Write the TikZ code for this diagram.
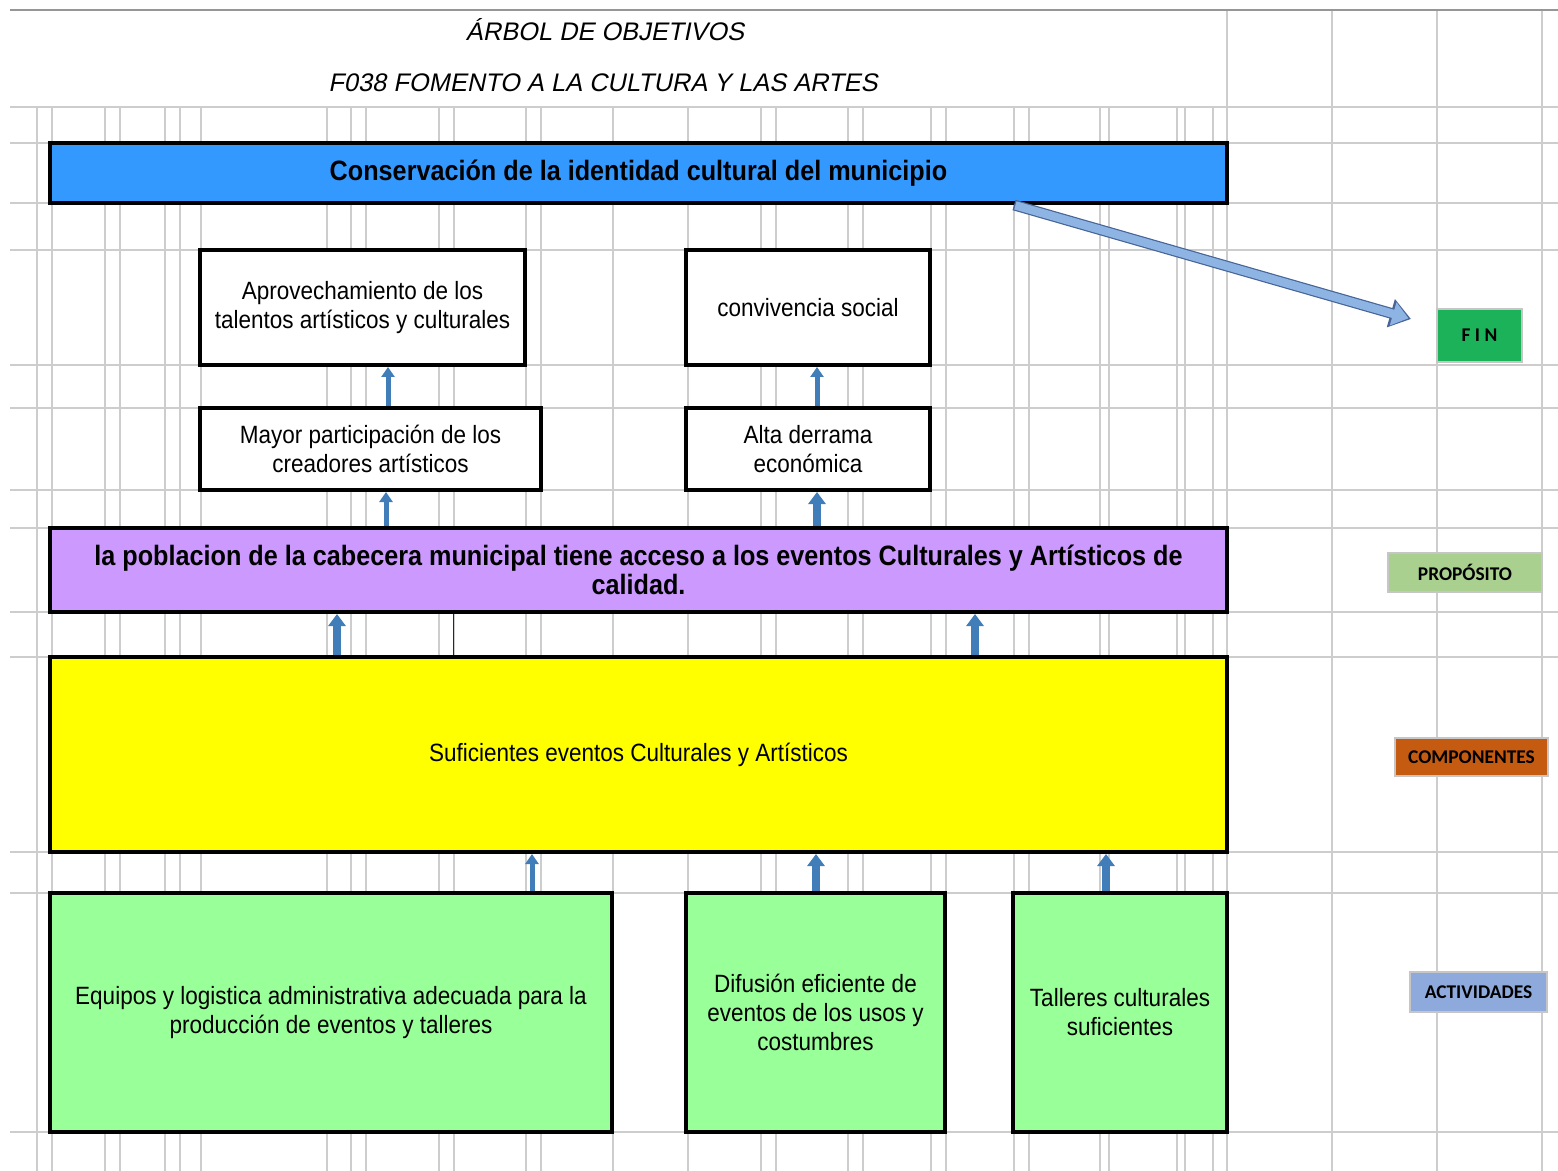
\documentclass[tikz,border=0pt]{standalone}
\usepackage{fontspec}
\setmainfont{Liberation Sans}
\newfontfamily\agency[FakeStretch=0.9]{Liberation Sans}
\newfontfamily\agencytit[FakeSlant=0.2]{Liberation Sans}
\newfontfamily\calib{Carlito}
\usetikzlibrary{arrows.meta}
\definecolor{atGrid}{RGB}{205,205,205}
\definecolor{atTop}{RGB}{150,150,150}
\definecolor{atBlue}{RGB}{51,153,255}
\definecolor{atLila}{RGB}{204,153,255}
\definecolor{atYellow}{RGB}{255,255,0}
\definecolor{atGreen}{RGB}{153,255,153}
\definecolor{atArrow}{RGB}{65,125,185}
\definecolor{atDiag}{RGB}{142,180,227}
\definecolor{atDiagEdge}{RGB}{70,100,150}
\definecolor{atNavy}{RGB}{20,40,90}
\definecolor{atFin}{RGB}{28,178,90}
\definecolor{atProp}{RGB}{169,208,142}
\definecolor{atComp}{RGB}{197,90,17}
\definecolor{atAct}{RGB}{142,169,219}

\begin{document}
\begin{tikzpicture}[x=0.5pt, y=-0.5pt,
  gridline/.style={atGrid, line width=0.8pt},
  objbox/.style={draw=black, line width=2pt, align=center, inner sep=2pt,
    font=\agency\fontsize{12.5}{14.5}\selectfont},
  headbox/.style={objbox, font=\agency\bfseries\fontsize{14}{14.5}\selectfont},
  levelbox/.style={draw=gray!45, line width=0.7pt, inner sep=0pt,
    font=\calib\bfseries\fontsize{9.7}{11}\selectfont},
  uparr/.style={atArrow, line width=2.5pt, -{Triangle[width=6.5pt, length=5pt]}},
  uparrw/.style={atArrow, line width=4pt, -{Triangle[width=8.5pt, length=6pt]}}]
  \useasboundingbox (0,0) rectangle (1558,1171);
  \fill[white] (0,0) rectangle (1558,1171);

  % Sheet grid
  \foreach \gx in {37,52,105,120,165,180,201,327,351,366,439,454,526,541,613,688,761,776,848,863,931,946,1014,1029,1100,1109,1177,1185,1213}
    \draw[gridline] (\gx,107) -- (\gx,1171);
  \foreach \gx in {1227,1332,1437,1542}
    \draw[gridline] (\gx,10) -- (\gx,1171);
  \fill[white] (615,894) rectangle (686,1131);
  \fill[white] (948,894) rectangle (1012,1131);
  \foreach \gy in {107,143,203,250,365,408,490,528,612,657,852,893,1132}
    \draw[gridline] (10,\gy) -- (1558,\gy);
  \draw[atTop, line width=1pt] (10,10) -- (1558,10);

  % Titles
  \node[font=\agencytit\fontsize{12.7}{14}\selectfont] (titA) at (605,30) {ÁRBOL DE OBJETIVOS};
  \node[font=\agencytit\fontsize{12.7}{14}\selectfont] (titB) at (603,83) {F038 FOMENTO A LA CULTURA Y LAS ARTES};

  % Fin
  \node[headbox, fill=atBlue, minimum width=588.5pt, minimum height=30pt] (conserv) at (638.5,173)
    {Conservación de la identidad cultural del municipio};
  \node[objbox, fill=white, minimum width=162.5pt, minimum height=57.5pt] (aprov) at (362.5,307.5)
    {Aprovechamiento de los\\talentos artísticos y culturales};
  \node[objbox, fill=white, minimum width=122pt, minimum height=57.5pt] (conviv) at (808,307.5)
    {convivencia social};
  \node[objbox, fill=white, minimum width=170.5pt, minimum height=41pt] (mayor) at (370.5,449)
    {Mayor participación de los\\creadores artísticos};
  \node[objbox, fill=white, minimum width=122pt, minimum height=41pt] (alta) at (808,449)
    {Alta derrama\\económica};

  % Proposito y componentes
  \node[headbox, fill=atLila, minimum width=588.5pt, minimum height=42pt] (pobla) at (638.5,570)
    {la poblacion de la cabecera municipal tiene acceso a los eventos Culturales y Artísticos de\\calidad.};
  \node[objbox, fill=atYellow, minimum width=588.5pt, minimum height=97.5pt] (sufic) at (638.5,754.5)
    {Suficientes eventos Culturales y Artísticos};

  % Actividades
  \node[objbox, fill=atGreen, minimum width=281pt, minimum height=119.5pt] (equipos) at (331,1012.5)
    {Equipos y logistica administrativa adecuada para la\\producción de eventos y talleres};
  \node[objbox, fill=atGreen, minimum width=129.5pt, minimum height=119.5pt] (difus) at (815.5,1012.5)
    {Difusión eficiente de\\eventos de los usos y\\costumbres};
  \node[objbox, fill=atGreen, minimum width=107pt, minimum height=119.5pt] (taller) at (1120,1012.5)
    {Talleres culturales\\suficientes};

  % Arrows up the tree
  \draw[uparr] (mayor.north -| 388,0) -- (aprov.south -| 388,0);
  \draw[uparr] (alta.north -| 817,0) -- (conviv.south -| 817,0);
  \draw[uparr] (pobla.north -| 386,0) -- (mayor.south -| 386,0);
  \draw[uparrw] (pobla.north -| 817,0) -- (alta.south -| 817,0);
  \draw[uparrw] (sufic.north -| 337,0) -- (pobla.south -| 337,0);
  \draw[uparrw] (sufic.north -| 975,0) -- (pobla.south -| 975,0);
  \draw[atNavy, line width=0.5pt] (pobla.south -| 453,0) -- (sufic.north -| 453,0);
  \draw[uparr] (equipos.north -| 532,0) -- (sufic.south -| 532,0);
  \draw[uparrw] (difus.north -| 816,0) -- (sufic.south -| 816,0);
  \draw[uparrw] (taller.north -| 1106,0) -- (sufic.south -| 1106,0);

  % Level labels
  \node[levelbox, fill=atFin, minimum width=42.5pt, minimum height=26.5pt] (fin) at (1479.5,335.5) {F I N};
  \node[levelbox, fill=atProp, minimum width=77pt, minimum height=19.5pt] (prop) at (1465,572.5) {PROPÓSITO};
  \node[levelbox, fill=atComp, minimum width=76.5pt, minimum height=19pt] (comp) at (1471.5,757) {COMPONENTES};
  \node[levelbox, fill=atAct, minimum width=68.5pt, minimum height=20pt] (activ) at (1478.5,992) {ACTIVIDADES};

  % Block arrow to FIN
  \coordinate (diagS) at (conserv.south -| 1014,0);
  \coordinate (finTip) at (1411,319);
  \draw[atDiagEdge, line width=5.4pt, -{Triangle[width=14pt, length=10.5pt]}] (diagS) -- (finTip);
  \draw[atDiag, line width=4.2pt, shorten >=1.3pt, shorten <=0.7pt, -{Triangle[width=11.5pt, length=8pt]}] (diagS) -- (finTip);
\end{tikzpicture}
\end{document}
